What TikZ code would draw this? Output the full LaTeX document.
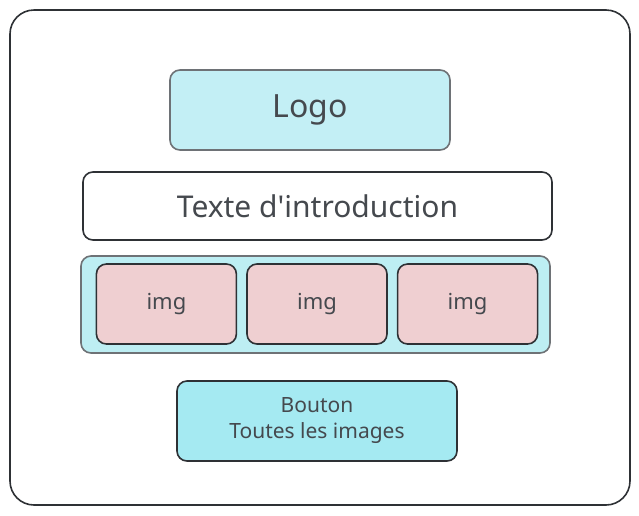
\documentclass[tikz,border=0pt]{standalone}
\usepackage{fontspec}
\setmainfont{Noto Sans}
\usetikzlibrary{positioning}
\definecolor{inkdark}{HTML}{2E3135}
\definecolor{inkgray}{HTML}{6E7276}
\definecolor{txtgray}{HTML}{45494E}
\definecolor{logofill}{HTML}{C3EFF5}
\definecolor{galfill}{HTML}{BDEEF3}
\definecolor{imgfill}{HTML}{EFCFD1}
\definecolor{btnfill}{HTML}{A5EAF2}
\begin{document}
\begin{tikzpicture}[
    x = 1pt,
    y = -1pt,
    node distance = 9pt,
    line width = 1.6pt,
    box/.style={rectangle, rounded corners=10pt, draw=inkdark, text=txtgray, inner sep=0pt},
    imgbox/.style={box, fill=imgfill, minimum width=140pt, minimum height=80pt, font=\fontsize{22}{24}\selectfont}
]
    \useasboundingbox (0,0) rectangle (639,515);
    \node[box, rounded corners=24pt, fill=white, minimum width=620pt, minimum height=495pt] (frame) at (320,257.5) {};
    \node[box, draw=inkgray, fill=logofill, minimum width=280pt, minimum height=80pt,
        font=\fontsize{32}{36}\selectfont] (logo) at (310,110) {Logo};
    \node[box, fill=white, minimum width=469pt, minimum height=68pt,
        font=\fontsize{30}{32}\selectfont] (intro) at (317.5,206) {Texte d\textquotesingle introduction};
    \node[box, draw=inkgray, fill=galfill, minimum width=469pt, minimum height=97pt] (gallery) at (315.5,304.5) {};
    \node[imgbox] (img2) at (317,304) {img};
    \node[imgbox, left=of img2] (img1) {img};
    \node[imgbox, right=of img2] (img3) {img};
    \node[box, fill=btnfill, minimum width=280pt, minimum height=80pt, align=center,
        font=\fontsize{21}{26}\selectfont] (button) at (317,421) {Bouton\\Toutes les images};
\end{tikzpicture}
\end{document}
